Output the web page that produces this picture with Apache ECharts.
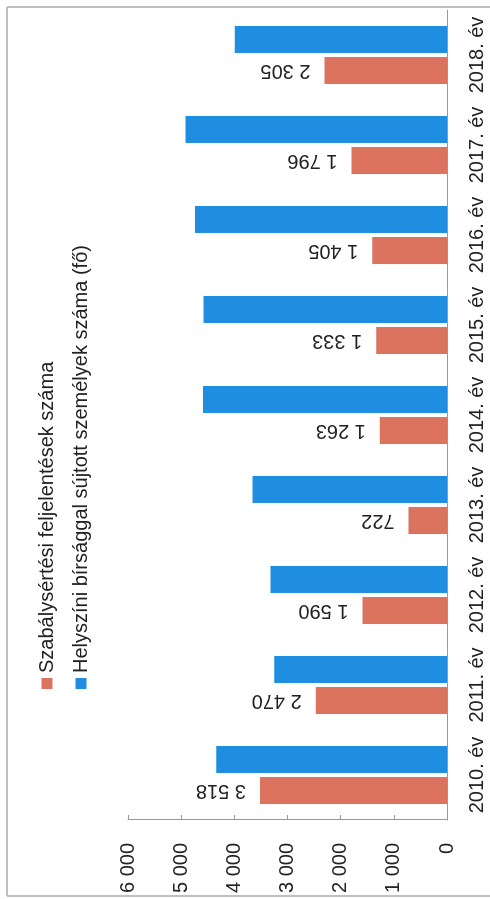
<!DOCTYPE html>
<html>
<head>
<meta charset="utf-8">
<script src="https://cdn.jsdelivr.net/npm/echarts@6/dist/echarts.min.js"></script>
<style>
html, body { margin: 0; padding: 0; background: #fff; overflow: hidden; }
#wrap { position: absolute; left: 0; top: 0; width: 490px; height: 899px; overflow: hidden; }
#chart { position: absolute; left: 0; top: 0; width: 899px; height: 490px;
  transform-origin: 0 0; transform: translate(0, 899px) rotate(-90deg); }
</style>
</head>
<body>
<div id="wrap"><div id="chart"></div></div>
<script>
const categories = ['2010. év', '2011. év', '2012. év', '2013. év', '2014. év', '2015. év', '2016. év', '2017. év', '2018. év'];
const seriesNames = ['Szabálysértési feljelentések száma', 'Helyszíni bírsággal sújtott személyek száma (fő)'];
const reports = [3518, 2470, 1590, 722, 1263, 1333, 1405, 1796, 2305];
const fines = [4340, 3250, 3320, 3660, 4590, 4580, 4740, 4920, 3990];
const valueMin = 0, valueMax = 6000, valueStep = 1000;

const FONT = 'Liberation Sans';
const fmt = v => String(v).replace(/\B(?=(\d{3})+(?!\d))/g, ' ');

const chart = echarts.init(document.getElementById('chart'), null, { renderer: 'canvas' });
chart.setOption({
  animation: false,
  backgroundColor: '#fff',
  textStyle: { fontFamily: FONT },
  legend: {
    orient: 'vertical',
    left: 205, top: 31,
    itemWidth: 11, itemHeight: 11,
    itemGap: 12,
    icon: 'rect',
    textStyle: { fontFamily: FONT, fontSize: 20, color: '#222', lineHeight: 22 },
    data: seriesNames
  },
  grid: { left: 79, right: 10, top: 128, bottom: 43 },
  xAxis: {
    type: 'category',
    data: categories,
    axisLine: { lineStyle: { color: '#999', width: 1 } },
    axisTick: { show: false },
    axisLabel: { interval: 0, fontFamily: FONT, fontSize: 20, color: '#222', margin: 20 }
  },
  yAxis: {
    type: 'value',
    min: valueMin, max: valueMax, interval: valueStep,
    splitLine: { show: false },
    axisLine: { show: true, lineStyle: { color: '#999', width: 1 } },
    axisTick: { show: true, inside: true, length: 5, lineStyle: { color: '#999' } },
    axisLabel: { fontFamily: FONT, fontSize: 20, color: '#222', margin: 23, formatter: fmt }
  },
  graphic: [
    { type: 'line', shape: { x1: 3, y1: 7, x2: 892, y2: 7 }, style: { stroke: '#aaa', lineWidth: 1.5 } },
    { type: 'line', shape: { x1: 3, y1: 7, x2: 3, y2: 490 }, style: { stroke: '#aaa', lineWidth: 1.5 } },
    { type: 'line', shape: { x1: 892, y1: 7, x2: 892, y2: 490 }, style: { stroke: '#aaa', lineWidth: 1.5 } }
  ],
  series: [
    {
      name: seriesNames[0], type: 'bar', data: reports,
      barWidth: 27, barGap: '15%',
      itemStyle: { color: '#dc735f' },
      label: {
        show: true, position: 'top', distance: 14, rotate: 90,
        align: 'left', verticalAlign: 'middle',
        fontFamily: FONT, fontSize: 20, color: '#222',
        formatter: p => fmt(p.value)
      }
    },
    {
      name: seriesNames[1], type: 'bar', data: fines,
      barWidth: 27, barGap: '15%',
      itemStyle: { color: '#1f8ee0' }
    }
  ]
});
</script>
</body>
</html>
